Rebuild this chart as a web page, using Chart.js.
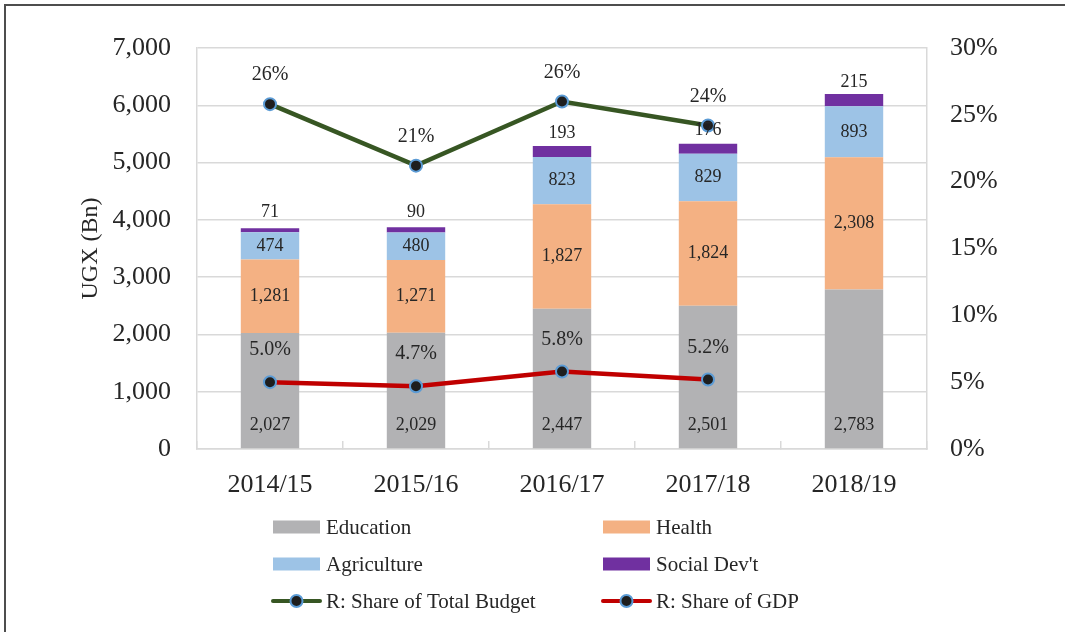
<!DOCTYPE html>
<html><head><meta charset="utf-8">
<script src="https://cdn.jsdelivr.net/npm/chart.js@4.4.1/dist/chart.umd.min.js"></script>
<style>
html,body{margin:0;padding:0;background:#fff;}
#wrap{position:relative;width:1065px;height:632px;overflow:hidden;}
#frame{position:absolute;left:4px;top:4px;width:1100px;height:700px;border-left:2px solid #4d4d4d;border-top:2px solid #4d4d4d;pointer-events:none;}
canvas{display:block;}
</style></head><body>
<div id="wrap"><canvas id="c" width="1065" height="632" style="width:1065px;height:632px"></canvas><div id="frame"></div></div>
<script>
const categories = ['2014/15','2015/16','2016/17','2017/18','2018/19'];
const education = [2027, 2029, 2447, 2501, 2783];
const health = [1281, 1271, 1827, 1824, 2308];
const agriculture = [474, 480, 823, 829, 893];
const socialDev = [71, 90, 193, 176, 215];
const shareBudget = [25.8, 21.2, 26.0, 24.2, null];
const shareGDP = [5.0, 4.7, 5.8, 5.2, null];
const leftTicks = [0,1000,2000,3000,4000,5000,6000,7000];
const rightTicks = [0,5,10,15,20,25,30];

const FONT = "'Liberation Serif','Times New Roman',serif";
const TXT = '#262626';
const COLORS = {edu:'#B2B2B4', hea:'#F4B183', agr:'#9DC3E6', soc:'#7030A0', bud:'#375623', gdp:'#C00000', ptFill:'#1E1E1E', ptBorder:'#5B9BD5'};

const labelPlugin = {
  id:'labels',
  afterDatasetsDraw(chart){
    const ctx = chart.ctx;
    ctx.save();
    ctx.fillStyle = TXT;
    ctx.textAlign = 'center';
    ctx.textBaseline = 'middle';
    chart.data.datasets.forEach((ds, di) => {
      const meta = chart.getDatasetMeta(di);
      meta.data.forEach((el, i) => {
        const v = ds.data[i];
        if (v === null || v === undefined) return;
        let txt, y;
        if (ds.type === 'line') {
          ctx.font = '20px ' + FONT;
          if (ds.key === 'bud') { txt = Math.round(v) + '%'; y = el.y - 29; }
          else { txt = v.toFixed(1) + '%'; y = el.y - 32; }
        } else {
          ctx.font = '18px ' + FONT;
          txt = v.toLocaleString('en-US');
          const top = el.y, base = el.base;
          if (ds.key === 'edu') y = base - 23;
          else if (ds.key === 'soc') y = (top + base) / 2 - 18;
          else y = (top + base) / 2;
        }
        ctx.fillText(txt, el.x, y);
      });
    });
    ctx.restore();
  }
};

const legendPlugin = {
  id:'customLegend',
  afterDraw(chart){
    const ctx = chart.ctx;
    const items = chart.data.datasets;
    const order = ['edu','hea','agr','soc','bud','gdp'];
    const colX = [273, 603];
    const rowY = [527, 564, 601];
    ctx.save();
    ctx.font = '21px ' + FONT;
    ctx.textBaseline = 'middle';
    ctx.textAlign = 'left';
    order.forEach((k, idx) => {
      const ds = items.find(d => d.key === k);
      const x = colX[idx % 2], y = rowY[Math.floor(idx / 2)];
      if (ds.type === 'line') {
        ctx.strokeStyle = ds.borderColor; ctx.lineWidth = 4; ctx.lineCap = 'round';
        ctx.beginPath(); ctx.moveTo(x, y); ctx.lineTo(x + 47, y); ctx.stroke();
        ctx.beginPath(); ctx.arc(x + 23.5, y, 6, 0, Math.PI * 2);
        ctx.fillStyle = COLORS.ptFill; ctx.fill();
        ctx.lineWidth = 2; ctx.strokeStyle = COLORS.ptBorder; ctx.stroke();
      } else {
        ctx.fillStyle = ds.backgroundColor;
        ctx.fillRect(x, y - 6.5, 47, 13);
      }
      ctx.fillStyle = TXT;
      ctx.fillText(ds.label, x + 53, y + 1);
    });
    ctx.restore();
  }
};

function barDs(label, key, data, color){
  return {type:'bar', label, key, data, backgroundColor:color, yAxisID:'y', stack:'s', order:2,
          barPercentage:0.4, categoryPercentage:1.0, borderWidth:0};
}
function lineDs(label, key, data, color){
  return {type:'line', label, key, data, borderColor:color, backgroundColor:color, yAxisID:'y1', order:0,
          borderWidth:4.5, pointRadius:6, pointHoverRadius:6, pointBackgroundColor:COLORS.ptFill,
          pointBorderColor:COLORS.ptBorder, pointBorderWidth:2, spanGaps:false, tension:0, stack:'l'};
}

new Chart(document.getElementById('c'), {
  data:{
    labels:categories,
    datasets:[
      barDs('Education','edu',education,COLORS.edu),
      barDs('Health','hea',health,COLORS.hea),
      barDs('Agriculture','agr',agriculture,COLORS.agr),
      barDs("Social Dev't",'soc',socialDev,COLORS.soc),
      lineDs('R: Share of Total Budget','bud',shareBudget,COLORS.bud),
      lineDs('R: Share of GDP','gdp',shareGDP,COLORS.gdp)
    ]
  },
  options:{
    responsive:false, animation:false, devicePixelRatio:1,
    layout:{padding:{top:48, left:0, right:0, bottom:0}},
    plugins:{legend:{display:false}, tooltip:{enabled:false}},
    scales:{
      x:{stacked:true,
         grid:{offset:true, drawOnChartArea:false, tickLength:-8, color:'#D9D9D9', lineWidth:1.5},
         border:{color:'#D9D9D9', width:1.5},
         ticks:{font:{family:FONT, size:26}, color:TXT, padding:29},
         afterFit(s){ s.height = 183; }},
      y:{stacked:true, position:'left', min:0, max:7000,
         afterBuildTicks(s){ s.ticks = leftTicks.map(v => ({value:v})); },
         grid:{color:'#D9D9D9', lineWidth:1.5, drawTicks:false},
         border:{color:'#D9D9D9', width:1.5},
         ticks:{font:{family:FONT, size:26}, color:TXT, padding:26,
                callback:v => v.toLocaleString('en-US')},
         title:{display:true, text:'UGX (Bn)', font:{family:FONT, size:24}, color:TXT, padding:{top:76, bottom:0}},
         afterFit(s){ s.width = 197; }},
      y1:{stacked:false, position:'right', min:0, max:30,
         afterBuildTicks(s){ s.ticks = rightTicks.map(v => ({value:v})); },
         grid:{drawOnChartArea:false, drawTicks:false},
         border:{color:'#D9D9D9', width:1.5},
         ticks:{font:{family:FONT, size:26}, color:TXT, padding:23,
                callback:v => v + '%'},
         afterFit(s){ s.width = 138; }}
    }
  },
  plugins:[labelPlugin, legendPlugin]
});
</script>
</body></html>
